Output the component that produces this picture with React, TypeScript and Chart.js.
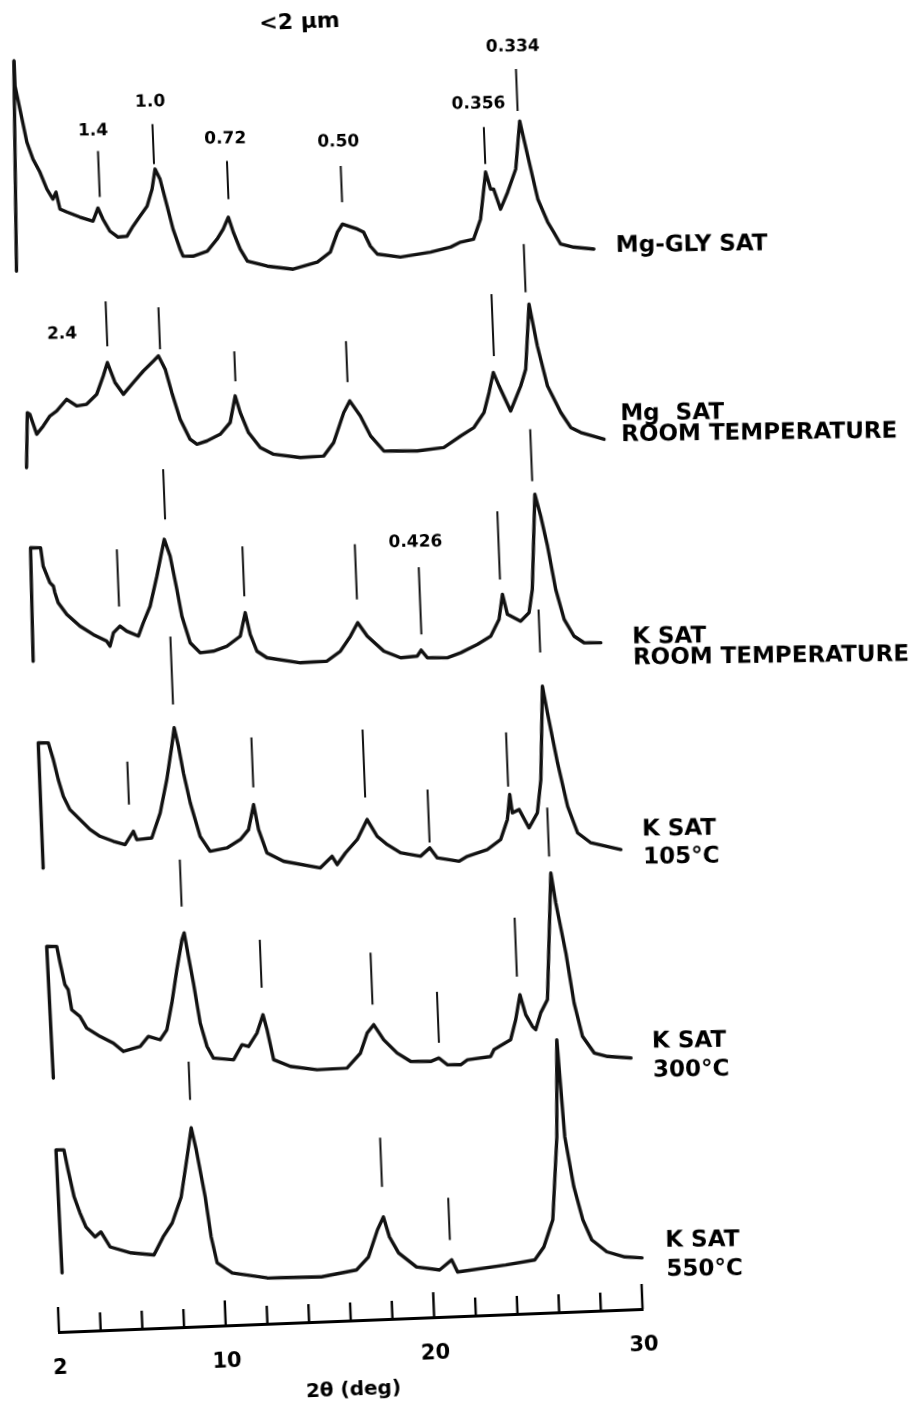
import React, { useEffect, useRef } from "react";
import { Chart, registerables } from "chart.js";

Chart.register(...registerables);

const FONT = "'DejaVu Sans', 'Liberation Sans', sans-serif";

// ---------- axis ----------
const X_MIN = 2;
const X_MAX = 30;
const Y_MAX = 1288;
const TICK_STEP = 2;
const LABELLED_TICKS = [2, 10, 20, 30];
const TICK_VALUES = [2, 4, 6, 8, 10, 12, 14, 16, 18, 20, 22, 24, 26, 28, 30];
const TITLE = "<2 µm";
const X_TITLE = "2θ (deg)";

// ---------- traces (2θ in degrees, intensity above each trace's baseline) ----------
const TRACE_OFFSETS = [1050, 860, 655, 450, 248, 40];

const glyX = [1.97, 2.24, 2.25, 2.44, 2.71, 2.97, 3.28, 3.58, 3.85, 4.01, 4.17, 4.5, 5.11, 5.73, 5.99, 6.21, 6.52, 6.9, 7.33, 7.64, 7.99, 8.35, 8.62, 8.8, 9.02, 9.31, 9.55, 9.85, 9.98, 10.46, 11.15, 11.64, 11.95, 12.22, 12.43, 12.73, 13.05, 14.0, 15.23, 16.4, 17.04, 17.42, 17.67, 18.38, 18.67, 18.97, 19.29, 20.39, 21.84, 22.81, 23.3, 23.93, 24.3, 24.63, 24.84, 24.98, 25.28, 25.65, 26.08, 26.36, 26.68, 27.08, 27.51, 27.78, 28.09, 28.71, 29.67];
const glyI = [11.7, 221.8, 196.7, 173.5, 140.3, 123, 109.7, 92.5, 82.2, 89.1, 72, 68.7, 63.2, 58.7, 71.5, 60.3, 48, 41.7, 42.3, 52.1, 61.8, 71.5, 88.3, 108.2, 98, 70.7, 47.5, 27.2, 20.1, 19.7, 24.2, 35.8, 45.5, 57.3, 42.1, 24.9, 12.6, 6.8, 2.8, 8.8, 18.3, 38, 45.8, 40.3, 37, 22.7, 14.5, 10.6, 14.4, 18.6, 23.2, 25.7, 45.4, 92.2, 75, 74.9, 54.6, 71.3, 94, 141.9, 106.6, 63.2, 39.8, 29.5, 17.3, 13.7, 11];

const mgX = [2.08, 2.22, 2.34, 2.63, 2.96, 3.3, 3.63, 4.13, 4.6, 5.08, 5.58, 5.93, 6.15, 6.48, 6.86, 7.36, 7.86, 8.36, 8.61, 8.91, 9.18, 9.53, 9.97, 10.29, 10.77, 11.42, 11.92, 12.21, 12.42, 12.78, 13.32, 13.94, 15.22, 16.34, 16.84, 17.38, 17.69, 18.17, 18.62, 19.23, 20.83, 22.11, 22.94, 23.59, 24.1, 24.38, 24.62, 24.87, 25.38, 25.91, 26.18, 26.46, 26.78, 27.19, 27.78, 28.23, 28.7, 29.8];
const mgI = [5, 59.9, 58.1, 37.9, 45.9, 55.7, 60.4, 71.7, 64.6, 65.9, 75.5, 93.6, 106.8, 86.5, 74.5, 85.8, 97, 106.6, 111.4, 97.8, 74.3, 47.2, 26.8, 21.6, 24.5, 30.7, 42, 68.4, 51.6, 31.2, 15.8, 8.6, 4.2, 4.9, 17.9, 47.5, 58.9, 43.4, 23.1, 7.5, 6.2, 8.6, 19.5, 27.4, 42, 61.8, 81.6, 68, 42.5, 67.1, 83.6, 148.5, 106.5, 66.1, 39, 23.6, 18.2, 10.6];

const kRtX = [2.03, 2.12, 2.6, 2.69, 2.98, 3.14, 3.2, 3.34, 3.73, 4.34, 4.96, 5.59, 5.74, 5.93, 6.26, 6.57, 7.12, 7.38, 7.74, 8.12, 8.54, 8.79, 9.05, 9.24, 9.59, 10.05, 10.69, 11.34, 12.0, 12.28, 12.48, 12.77, 13.24, 14.83, 16.11, 16.77, 17.28, 17.65, 18.08, 18.85, 19.64, 20.44, 20.64, 20.92, 21.88, 22.53, 23.34, 24.0, 24.43, 24.64, 24.84, 25.46, 25.88, 26.08, 26.38, 26.62, 26.89, 27.2, 27.55, 27.99, 28.46, 29.26];
const kRtI = [16.3, 129.8, 129.4, 110.9, 94.1, 90.5, 83.9, 73.7, 61.7, 49.5, 40.6, 33.4, 28.3, 41.6, 47.9, 42.6, 37.2, 50.4, 66.7, 96.5, 132.9, 115.9, 82.4, 55.5, 28.5, 18.1, 19.2, 23.7, 33.2, 56.4, 34.5, 17.5, 10.5, 4.2, 4.8, 14.2, 28.8, 42, 28.2, 12.5, 5.3, 6.2, 12.1, 4.2, 3.4, 7.9, 15.5, 23.3, 39.7, 64.6, 44.4, 37.1, 45.2, 68.4, 163.3, 141.4, 111.1, 67.5, 37.1, 20, 13, 12.4];

const k105X = [2.11, 2.12, 2.6, 2.81, 3.01, 3.22, 3.51, 3.98, 4.44, 4.9, 5.53, 6.09, 6.51, 6.66, 7.38, 7.83, 8.21, 8.51, 8.66, 8.83, 9.02, 9.29, 9.7, 10.15, 10.96, 11.62, 12.03, 12.32, 12.51, 12.87, 13.65, 15.4, 15.98, 16.21, 16.63, 17.22, 17.73, 18.18, 18.65, 19.27, 20.22, 20.68, 21.02, 22.05, 22.46, 23.43, 24.09, 24.45, 24.61, 24.7, 25.03, 25.47, 25.9, 26.13, 26.38, 26.57, 26.96, 27.36, 27.79, 28.41, 29.83];
const k105I = [14.3, 139.5, 139.1, 122.2, 102, 85.1, 71.6, 61.2, 50.8, 43.7, 38.2, 34.4, 47.4, 38.9, 40, 64.7, 97.8, 130.9, 149.2, 130.6, 103.8, 73.5, 39.7, 24.4, 27.1, 34.9, 44.5, 69.3, 44.2, 20.5, 11.5, 3.4, 14.6, 6.1, 17.4, 30.3, 49.9, 32.8, 24.1, 15.3, 11.1, 19.1, 8.8, 4.6, 9.2, 15.2, 24.6, 44.4, 69.3, 50.9, 53.9, 35.2, 49.9, 83, 176.3, 149.5, 99.1, 55.3, 28.3, 17.8, 9.9];

const k300X = [2.21, 2.14, 2.62, 2.75, 2.94, 3.09, 3.22, 3.6, 3.9, 4.53, 5.15, 5.62, 6.43, 6.84, 7.4, 7.74, 8.03, 8.33, 8.63, 8.75, 8.91, 9.1, 9.35, 9.63, 9.92, 10.88, 11.31, 11.62, 12.05, 12.37, 12.54, 12.8, 13.59, 14.86, 16.3, 16.97, 17.33, 17.66, 18.11, 18.73, 19.36, 20.32, 20.72, 21.11, 21.75, 22.08, 23.2, 23.37, 24.19, 24.47, 24.72, 24.96, 25.26, 25.41, 25.68, 26.03, 26.43, 26.61, 27.0, 27.3, 27.64, 28.17, 28.8, 29.92];
const k300I = [5.9, 137.8, 137.4, 120.7, 98.8, 93.6, 73.5, 66.5, 54.6, 45.7, 38.6, 29.8, 34.1, 43.8, 40, 49.8, 76.3, 109.4, 139.2, 145.8, 122.2, 95.4, 55.1, 31.5, 19.6, 17.1, 31.8, 29.8, 42.9, 61, 45.8, 15.6, 8.2, 3.9, 4.4, 18.8, 38.6, 46.6, 31.2, 17.4, 8.5, 7.7, 10.8, 3.7, 3.2, 7.9, 10.3, 16.9, 26.2, 46, 70.9, 50.6, 38.7, 35.3, 51.8, 64.8, 191.4, 161.2, 110.8, 60.4, 26.7, 9.7, 5.7, 3.2];

const k550X = [2.26, 2.2, 2.58, 2.74, 2.98, 3.23, 3.49, 3.91, 4.2, 4.61, 5.6, 6.7, 7.17, 7.63, 8.11, 8.47, 8.72, 8.92, 9.26, 9.47, 9.71, 10.41, 12.08, 14.68, 16.37, 16.97, 17.45, 17.76, 18.01, 18.42, 19.25, 20.35, 20.95, 21.21, 23.53, 24.93, 25.39, 25.87, 26.22, 26.4, 26.6, 26.94, 27.31, 27.7, 28.4, 29.25, 30.07];
const k550I = [18.9, 142.1, 141.8, 121.6, 94.4, 78.2, 63.9, 53.6, 58.3, 43, 36.2, 33.3, 50.9, 64.5, 90.2, 130, 158.8, 136.6, 89.3, 49, 22.8, 12.2, 5.8, 4.7, 10.3, 22.8, 49.5, 62.2, 42, 25.6, 10.9, 7, 16.6, 4.3, 9.4, 13.3, 25.9, 52.6, 135.4, 232.4, 135.1, 84.8, 51.4, 31, 18.5, 12.7, 11.1];

const TRACE_X = [glyX, mgX, kRtX, k105X, k300X, k550X];
const TRACE_I = [glyI, mgI, kRtI, k105I, k300I, k550I];

// ---------- peak marker ticks (2θ, lower end, upper end; relative to trace baseline) ----------
const glyMkX = [6.1, 8.76, 12.26, 17.7, 24.63, 26.28];
const glyMkLo = [82.4, 113.3, 75.3, 67.8, 100.2, 152];
const glyMkHi = [128.5, 153.3, 113.4, 103.9, 137.3, 194];
const mgMkX = [6.18, 8.7, 12.25, 17.62, 24.68, 26.32];
const mgMkLo = [123.1, 118, 83.1, 77.7, 97.9, 160.6];
const mgMkHi = [168.1, 160.1, 113.1, 118.7, 160, 208.7];
const kRtMkX = [6.25, 8.62, 12.27, 17.66, 20.68, 24.55, 26.28];
const kRtMkLo = [67.6, 152.8, 72.7, 65.3, 27.7, 79.6, 176.4];
const kRtMkHi = [124.7, 202.9, 122.8, 120.4, 94.9, 147.8, 228.5];
const k105MkX = [6.35, 8.65, 12.34, 17.68, 20.68, 24.55, 26.34];
const k105MkLo = [74.2, 172.5, 86.4, 72, 24.4, 77.3, 210.1];
const k105MkHi = [117.3, 240.6, 136.4, 140.1, 77.5, 131.4, 253.1];
const k300MkX = [8.68, 12.36, 17.64, 20.75, 24.61, 26.38];
const k300MkLo = [172.2, 88, 66.7, 26.1, 89, 207.7];
const k300MkHi = [219.3, 136.1, 118.8, 77.1, 148.1, 256.8];
const k550MkX = [8.72, 17.75, 20.9];
const k550MkLo = [186.8, 92.3, 36.6];
const k550MkHi = [224.9, 141.4, 78.7];

const MARK_X = [glyMkX, mgMkX, kRtMkX, k105MkX, k300MkX, k550MkX];
const MARK_LO = [glyMkLo, mgMkLo, kRtMkLo, k105MkLo, k300MkLo, k550MkLo];
const MARK_HI = [glyMkHi, mgMkHi, kRtMkHi, k105MkHi, k300MkHi, k550MkHi];

// ---------- d-spacing labels (nm) ----------
const PEAK_TEXT = ["1.4", "1.0", "0.72", "0.50", "0.356", "0.334", "2.4", "0.426"];
const PEAK_TRACE = [0, 0, 0, 0, 0, 0, 1, 2];
const PEAK_TEXT_X = [5.9, 8.69, 12.22, 17.63, 24.42, 26.17, 4.03, 20.57];
const PEAK_TEXT_Y = [148.7, 175.4, 135.5, 128, 160.5, 216.2, 136.9, 120];

// ---------- sample labels ----------
const TRACE_LABELS = [
  ["Mg-GLY SAT"],
  ["Mg  SAT", "ROOM TEMPERATURE"],
  ["K SAT", "ROOM TEMPERATURE"],
  ["K SAT", "105°C"],
  ["K SAT", "300°C"],
  ["K SAT", "550°C"],
];
const TRACE_LABEL_X = [30.73, 30.63, 30.77, 30.88, 30.96, 31.22];
const TRACE_LABEL_Y = [[13.1], [34.9, 13.9], [16.4, -4.6], [29, 1], [18.7, -10.3], [27.1, -1.9]];

// ---------- page geometry ----------
const CANVAS_W = 950;
const CANVAS_H = 1400;
const ORIGIN_PAGE_X = 59;
const ORIGIN_PAGE_Y = 1332;
const FIGURE_TILT_DEG = 2.26;
const TEXT_TILT_DEG = 1.5;

function tracePoints(t: number) {
  return TRACE_X[t].map((x, i) => ({ x, y: TRACE_I[t][i] + TRACE_OFFSETS[t] }));
}

function markerPoints(t: number) {
  const pts: any[] = [];
  MARK_X[t].forEach((x, i) => {
    pts.push({ x, y: MARK_LO[t][i] + TRACE_OFFSETS[t] });
    pts.push({ x, y: MARK_HI[t][i] + TRACE_OFFSETS[t] });
    pts.push({ x, y: null });
  });
  return pts;
}

function drawText(ctx: CanvasRenderingContext2D, text: string, px: number, py: number, align: CanvasTextAlign, font: string) {
  ctx.save();
  ctx.translate(px, py);
  ctx.rotate((TEXT_TILT_DEG * Math.PI) / 180);
  ctx.font = font;
  ctx.textAlign = align;
  ctx.textBaseline = "middle";
  ctx.fillStyle = "#000";
  ctx.fillText(text, 0, 0);
  ctx.restore();
}

const annotationPlugin = {
  id: "xrdAnnotations",
  afterDraw(chart: any) {
    const { ctx, chartArea } = chart;
    const xs = chart.scales.x;
    const ys = chart.scales.y;
    ctx.save();
    ctx.strokeStyle = "#000";
    ctx.lineWidth = 2.4;
    TICK_VALUES.forEach((v) => {
      const px = xs.getPixelForValue(v);
      const len = LABELLED_TICKS.includes(v) ? 25 : 18;
      ctx.beginPath();
      ctx.moveTo(px, chartArea.bottom);
      ctx.lineTo(px, chartArea.bottom - len);
      ctx.stroke();
    });
    ctx.restore();

    PEAK_TEXT.forEach((t, i) => {
      const px = xs.getPixelForValue(PEAK_TEXT_X[i]);
      const py = ys.getPixelForValue(PEAK_TEXT_Y[i] + TRACE_OFFSETS[PEAK_TRACE[i]]);
      drawText(ctx, t, px, py, "center", `bold 17px ${FONT}`);
    });

    TRACE_LABELS.forEach((lines, t) => {
      lines.forEach((line, j) => {
        const px = xs.getPixelForValue(TRACE_LABEL_X[t]);
        const py = ys.getPixelForValue(TRACE_LABEL_Y[t][j] + TRACE_OFFSETS[t]);
        drawText(ctx, line, px, py, "left", `bold 23px ${FONT}`);
      });
    });
  },
};

export default function App() {
  const canvasRef = useRef<HTMLCanvasElement | null>(null);
  const wrapRef = useRef<HTMLDivElement | null>(null);

  useEffect(() => {
    const canvas = canvasRef.current;
    const wrap = wrapRef.current;
    if (!canvas || !wrap) return;

    const datasets: any[] = [];
    TRACE_OFFSETS.forEach((_, t) => {
      datasets.push({
        label: TRACE_LABELS[t].join(" "),
        data: tracePoints(t),
        showLine: true,
        borderColor: "#111",
        borderWidth: 3.4,
        pointRadius: 0,
        tension: 0,
        clip: false,
        borderJoinStyle: "round",
        borderCapStyle: "round",
      });
      datasets.push({
        label: `markers ${t}`,
        data: markerPoints(t),
        showLine: true,
        spanGaps: false,
        borderColor: "#111",
        borderWidth: 2,
        pointRadius: 0,
        clip: false,
      });
    });

    const chart = new Chart(canvas, {
      type: "scatter",
      data: { datasets },
      options: {
        animation: false,
        responsive: false,
        devicePixelRatio: 1,
        events: [],
        layout: { padding: { left: 40, right: 326, top: 0, bottom: 0 } },
        plugins: {
          legend: { display: false },
          tooltip: { enabled: false },
          title: {
            display: true,
            text: TITLE,
            color: "#000",
            padding: 0,
            font: { family: FONT, size: 22, weight: "bold", lineHeight: 1 },
          },
        },
        scales: {
          x: {
            type: "linear",
            position: "bottom",
            min: X_MIN,
            max: X_MAX,
            afterFit: (scale: any) => {
              scale.height = 90;
            },
            grid: { display: false, drawTicks: false },
            border: { display: true, color: "#000", width: 3 },
            ticks: {
              stepSize: TICK_STEP,
              autoSkip: false,
              maxRotation: 0,
              padding: 24,
              color: "#000",
              font: { family: FONT, size: 21, weight: "bold" },
              callback: (v: any) => (LABELLED_TICKS.includes(Number(v)) ? String(v) : ""),
            },
            title: {
              display: true,
              text: X_TITLE,
              color: "#000",
              padding: { top: 0, bottom: 8 },
              font: { family: FONT, size: 20, weight: "bold", lineHeight: 1.2 },
            },
          },
          y: { type: "linear", display: false, min: 0, max: Y_MAX },
        },
      },
      plugins: [annotationPlugin],
    } as any);

    const ox = chart.scales.x.getPixelForValue(X_MIN);
    const oy = chart.chartArea.bottom;
    wrap.style.left = `${ORIGIN_PAGE_X - ox}px`;
    wrap.style.top = `${ORIGIN_PAGE_Y - oy}px`;
    wrap.style.transformOrigin = `${ox}px ${oy}px`;
    wrap.style.transform = `rotate(${-FIGURE_TILT_DEG}deg)`;

    return () => chart.destroy();
  }, []);

  return (
    <div style={{ position: "fixed", left: 0, top: 0, width: "100vw", height: "100vh", overflow: "hidden", background: "#fff" }}>
      <div ref={wrapRef} style={{ position: "absolute", left: 0, top: 0, width: CANVAS_W, height: CANVAS_H }}>
        <canvas ref={canvasRef} width={CANVAS_W} height={CANVAS_H} style={{ display: "block" }} />
      </div>
    </div>
  );
}
